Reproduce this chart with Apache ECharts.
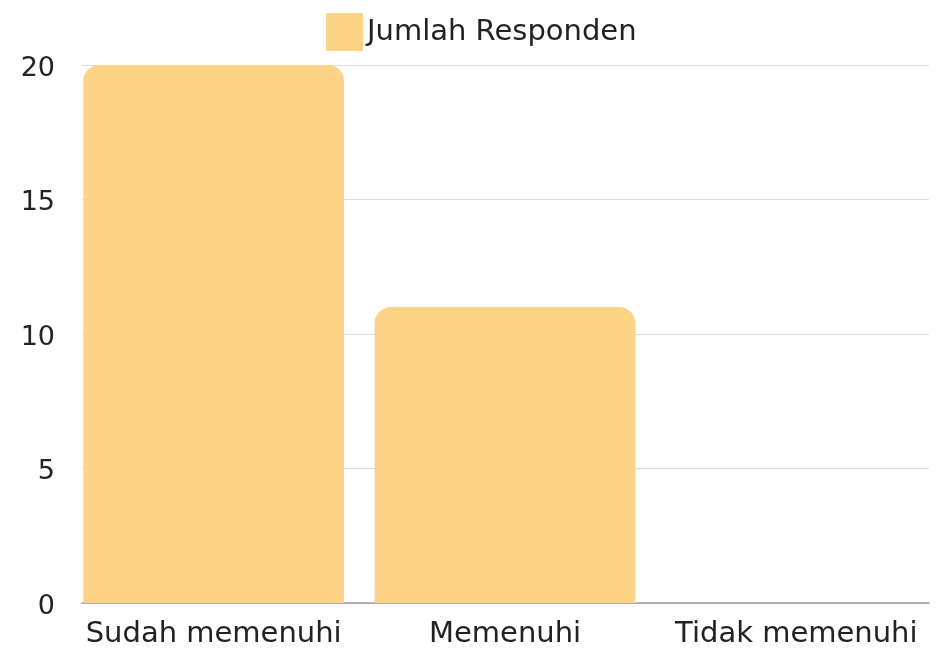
<!DOCTYPE html>
<html>
<head>
<meta charset="utf-8">
<script src="https://cdn.jsdelivr.net/npm/echarts@6/dist/echarts.min.js"></script>
<style>
  html, body { margin: 0; padding: 0; background: #ffffff; }
  #chart { width: 949px; height: 651px; }
</style>
</head>
<body>
<div id="chart"></div>
<script>
// Survey results: respondents per category
const categories = ['Sudah memenuhi', 'Memenuhi', 'Tidak memenuhi'];
const respondents = [20, 11, 0];
const seriesName = 'Jumlah Responden';
const yTicks = { min: 0, max: 20, interval: 5 };

const FONT = '"DejaVu Sans", sans-serif';
const TEXT = '#222222';
const BAR = '#FDD387';

const chart = echarts.init(document.getElementById('chart'), null, { renderer: 'canvas' });

chart.setOption({
  backgroundColor: '#ffffff',
  animation: false,
  textStyle: { fontFamily: FONT },
  legend: {
    top: 13,
    left: 326,
    padding: 0,
    itemWidth: 37,
    itemHeight: 38,
    itemGap: 10,
    icon: 'rect',
    textStyle: { fontFamily: FONT, fontSize: 29, color: TEXT, padding: [0, 0, 0, -1] },
    data: [seriesName]
  },
  grid: [
    // gridlines, value labels and baseline
    { left: 82, right: 20, top: 65, bottom: 48 },
    // bars and category labels
    { left: 68, right: 7, top: 65, bottom: 48 }
  ],
  xAxis: [
    {
      type: 'category', gridIndex: 0, data: categories,
      axisLine: { show: true, lineStyle: { color: '#9a9a9a', width: 1.5 } },
      axisTick: { show: false },
      axisLabel: { show: false },
      splitLine: { show: false }
    },
    {
      type: 'category', gridIndex: 1, data: categories,
      axisLine: { show: false },
      axisTick: { show: false },
      axisLabel: { fontFamily: FONT, fontSize: 29, color: TEXT, margin: 17, interval: 0, hideOverlap: false }
    }
  ],
  yAxis: [
    {
      type: 'value', gridIndex: 0,
      min: yTicks.min, max: yTicks.max, interval: yTicks.interval,
      axisLine: { show: false },
      axisTick: { show: false },
      axisLabel: {
        fontFamily: FONT, fontSize: 27, color: TEXT, margin: 27,
        verticalAlign: 'top', padding: [-10, 0, 0, 0]
      },
      splitLine: { lineStyle: { color: '#dcdcdc', width: 1.2 } }
    },
    {
      type: 'value', gridIndex: 1,
      min: yTicks.min, max: yTicks.max, interval: yTicks.interval,
      show: false
    }
  ],
  series: [
    {
      name: seriesName,
      type: 'bar',
      xAxisIndex: 1,
      yAxisIndex: 1,
      data: respondents,
      barCategoryGap: '10.5%',
      itemStyle: { color: BAR, borderRadius: [16, 16, 0, 0] }
    }
  ]
});
</script>
</body>
</html>
